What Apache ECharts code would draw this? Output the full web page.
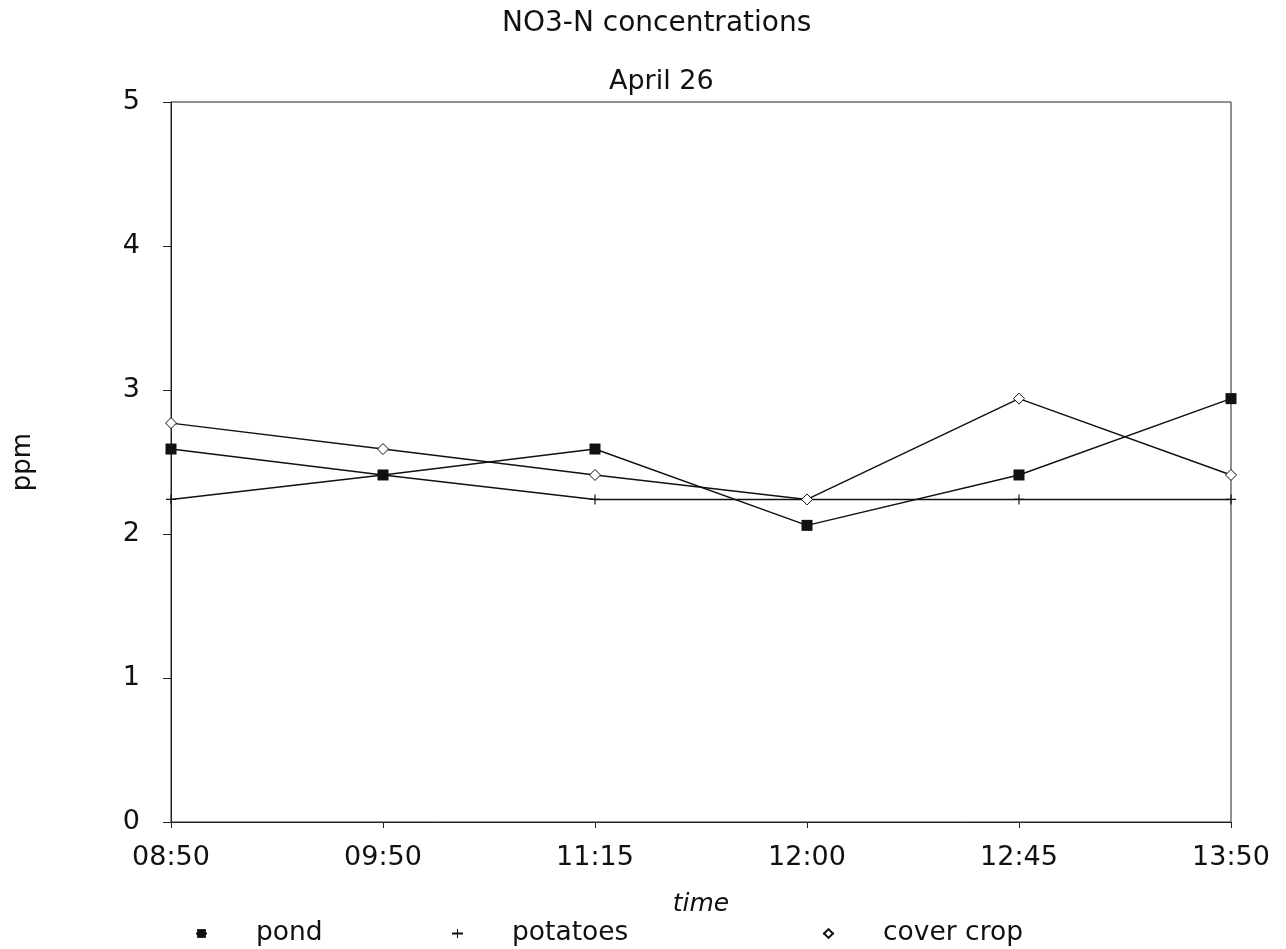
<!DOCTYPE html>
<html>
<head>
<meta charset="utf-8">
<script src="https://cdn.jsdelivr.net/npm/echarts@6/dist/echarts.min.js"></script>
<style>
  html, body { margin: 0; padding: 0; background: #fff; }
  #chart { width: 1286px; height: 949px; }
</style>
</head>
<body>
<div id="chart"></div>
<script>
const times = ['08:50', '09:50', '11:15', '12:00', '12:45', '13:50'];
const pond = [2.59, 2.41, 2.59, 2.06, 2.41, 2.94];
const potatoes = [2.24, 2.41, 2.24, 2.24, 2.24, 2.24];
const coverCrop = [2.77, 2.59, 2.41, 2.24, 2.94, 2.41];

const font = 'DejaVu Sans, Verdana, sans-serif';
const plusPath = 'path://M4.4,0h1.2v10h-1.2zM0,4.4h10v1.2h-10z';

const chart = echarts.init(document.getElementById('chart'));

// one legend per entry so they can sit where the original has them
function legendAt(name, left) {
  return {
    data: [name],
    left: left,
    top: 915,
    itemWidth: 11,
    itemHeight: 11,
    selectedMode: false,
    textStyle: { fontFamily: font, fontSize: 26.5, color: '#111', padding: [0, 0, 0, 44] }
  };
}

chart.setOption({
  animation: false,
  backgroundColor: '#fff',
  title: [
    { text: 'NO3-N concentrations', left: 497, top: 5,
      textStyle: { fontFamily: font, fontSize: 28, fontWeight: 'normal', color: '#111' } },
    { text: 'April 26', left: 604, top: 63,
      textStyle: { fontFamily: font, fontSize: 27, fontWeight: 'normal', color: '#111' } }
  ],
  legend: [
    legendAt('pond', 190),
    legendAt('potatoes', 446),
    legendAt('cover crop', 817)
  ],
  grid: {
    left: 171, right: 55, top: 102, bottom: 127,
    show: true, borderColor: '#222', borderWidth: 1
  },
  xAxis: {
    type: 'category',
    data: times,
    boundaryGap: false,
    name: 'time',
    nameLocation: 'middle',
    nameGap: 70,
    nameTextStyle: { fontFamily: font, fontSize: 25, fontStyle: 'italic', color: '#111' },
    axisLine: { lineStyle: { color: '#222' } },
    axisTick: { show: true, length: 6, lineStyle: { color: '#222' } },
    axisLabel: { fontFamily: font, fontSize: 27, color: '#111', margin: 22 },
    splitLine: { show: false }
  },
  yAxis: {
    type: 'value',
    min: 0, max: 5, interval: 1,
    name: 'ppm',
    nameLocation: 'middle',
    nameGap: 135,
    nameTextStyle: { fontFamily: font, fontSize: 26, color: '#111' },
    axisLine: { show: true, lineStyle: { color: '#222' } },
    axisTick: { show: true, length: 8, lineStyle: { color: '#222' } },
    axisLabel: { fontFamily: font, fontSize: 27, color: '#111', margin: 31 },
    splitLine: { show: false }
  },
  series: [
    {
      name: 'pond', type: 'line', data: pond,
      symbol: 'rect', symbolSize: 11,
      itemStyle: { color: '#111' },
      lineStyle: { color: '#111', width: 1.5 }
    },
    {
      name: 'potatoes', type: 'line', data: potatoes,
      symbol: plusPath, symbolSize: 10,
      itemStyle: { color: '#111' },
      lineStyle: { color: '#111', width: 1.5 }
    },
    {
      name: 'cover crop', type: 'line', data: coverCrop,
      symbol: 'diamond', symbolSize: 11,
      itemStyle: { color: '#fff', borderColor: '#111', borderWidth: 1 },
      lineStyle: { color: '#111', width: 1.5 }
    }
  ]
});
</script>
</body>
</html>
